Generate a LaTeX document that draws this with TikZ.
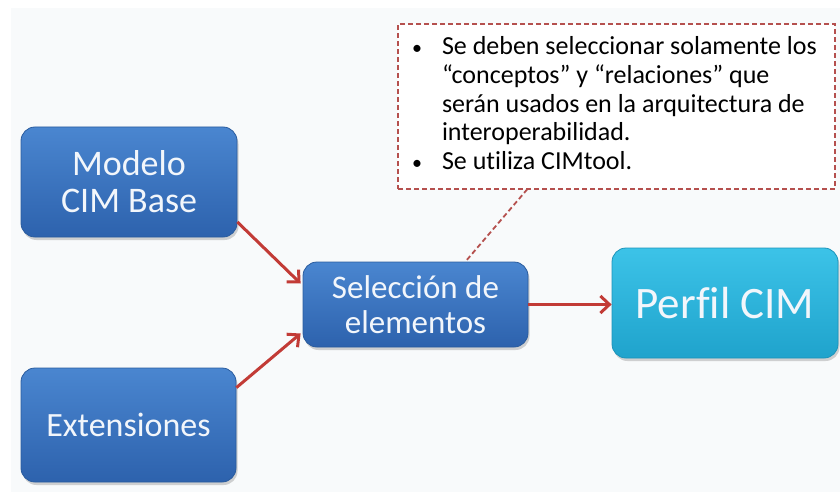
\documentclass[tikz,border=0pt]{standalone}
\usepackage{fontspec}
\setmainfont{Carlito}[Ligatures=NoCommon]
\usetikzlibrary{arrows.meta,shadows,calc}
\definecolor{boxtop}{HTML}{4A86D0}
\definecolor{boxbot}{HTML}{2D62AD}
\definecolor{boxline}{HTML}{2A5C9E}
\definecolor{cyantop}{HTML}{3CC3E8}
\definecolor{cyanbot}{HTML}{1FA3CC}
\definecolor{cyanline}{HTML}{1C94BA}
\definecolor{arrred}{HTML}{C23B36}
\definecolor{dashred}{HTML}{B5504E}
\definecolor{panel}{HTML}{F8FAFB}
\definecolor{txtw}{HTML}{F2F6FB}
\tikzset{
  bluebox/.style={rectangle, rounded corners=14pt, top color=boxtop, bottom color=boxbot,
    draw=boxline, line width=0.8pt, text=txtw, align=center,
    drop shadow={shadow xshift=1.5pt, shadow yshift=-3pt, opacity=0.35}},
  cyanbox/.style={rectangle, rounded corners=14pt, top color=cyantop, bottom color=cyanbot,
    draw=cyanline, line width=0.8pt, text=txtw, align=center,
    drop shadow={shadow xshift=1.5pt, shadow yshift=-3pt, opacity=0.35}},
  arr/.style={draw=arrred, line width=3pt, -{Straight Barb[length=9pt,width=17pt,line width=3pt]}},
  callbox/.style={rectangle, draw=dashred, dash pattern=on 5pt off 3pt, line width=1.3pt, fill=white},
  calllink/.style={draw=dashred, dash pattern=on 5pt off 3pt, line width=1.8pt}
}
\newcommand{\smbul}{{\fontsize{20}{20}\selectfont\textbullet}}
\begin{document}
\begin{tikzpicture}[x=1pt,y=-1pt]
\useasboundingbox (0,0) rectangle (840,492);
\fill[white] (0,0) rectangle (840,492);
\fill[panel] (11,8) rectangle (840,492);

\node[bluebox, minimum width=216pt, minimum height=110pt, font=\fontsize{36}{37}\selectfont] (m) at (129,182) {Modelo\\CIM Base};
\node[bluebox, minimum width=215pt, minimum height=114pt, font=\fontsize{34}{38}\selectfont] (e) at (128.5,425) {Extensiones};
\node[bluebox, minimum width=225pt, minimum height=85pt, font=\fontsize{33}{35}\selectfont] (s) at (415.5,304.5) {Selección de\\elementos};
\node[cyanbox, minimum width=226pt, minimum height=110pt, font=\fontsize{45}{50}\selectfont] (p) at (725,303) {Perfil CIM};

\node[callbox, minimum width=437pt, minimum height=165pt, inner sep=0pt,
      font=\fontsize{26}{28.75}\selectfont] (c) at (616.5,106.5)
{\makebox[409pt][l]{\begin{tabular}{@{}p{30pt}@{}l@{}}
\smbul & Se deben seleccionar solamente los\\
 & “conceptos” y “relaciones” que\\
 & serán usados en la arquitectura de\\
 & interoperabilidad.\\
\smbul & Se utiliza CIMtool.
\end{tabular}}};

\coordinate (t1) at ($(c.south west)+(130,-0.5)$);
\coordinate (t2) at ($(s.north)+(49.5,0.5)$);
\draw[calllink] (t1) -- (t2);

\draw[arr] ($(m.east)+(0,40)$) -- ($(s.west)+(-2,-21)$);
\draw[arr] ($(e.north east)+(0,20)$) -- ($(s.west)+(-2,29)$);
\draw[arr] (s.east) -- (s.east -| p.west);
\end{tikzpicture}
\end{document}
